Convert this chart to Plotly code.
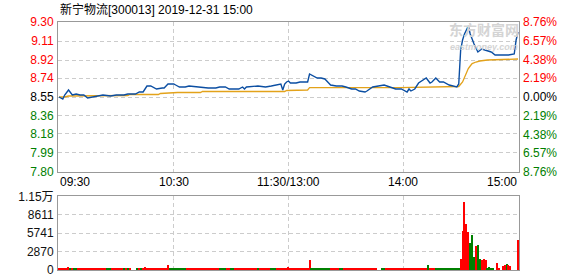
import plotly.graph_objects as go

# ---------------- data ----------------
prev_close = 8.55
price_ticks = [9.30, 9.11, 8.92, 8.74, 8.55, 8.36, 8.18, 7.99, 7.80]
pct_tick_vals = [8.76, 6.57, 4.38, 2.19, 0.0, -2.19, -4.38, -6.57, -8.76]
pct_ticks = ["8.76%", "6.57%", "4.38%", "2.19%", "0.00%", "2.19%", "4.38%", "6.57%", "8.76%"]
vol_tick_vals = [0, 2870, 5741, 8611, 11482]
vol_tick_text = ["0", "2870", "5741", "8611", "1.15万"]
time_labels = ["09:30", "10:30", "11:30/13:00", "14:00", "15:00"]
time_label_pos = [0, 60, 120, 180, 240]

price_min = [0, 2, 3, 5, 7, 9, 11, 13, 15, 18, 20, 23, 27, 30, 34, 36, 40, 42, 44, 46,
             48, 51, 54, 55, 57, 60, 61, 63, 66, 68, 73, 78, 82, 84, 87, 89, 94, 96, 97, 98,
             104, 108, 111, 115, 116, 117, 118, 119, 120, 121, 124, 126, 130, 131, 133, 135,
             137, 139, 141, 142, 145, 148, 150, 153, 155, 157, 160, 161, 164, 167, 170, 173,
             176, 179, 180, 182, 183, 184, 186, 188, 192, 194, 195, 197, 199, 201, 204, 207,
             208, 209, 210, 211, 212, 214, 215, 217, 219, 221, 223, 226, 228, 232, 235, 238,
             239, 240]
price_val = [8.55, 8.53, 8.57, 8.62, 8.57, 8.58, 8.57, 8.57, 8.54, 8.55, 8.56, 8.57, 8.56,
             8.57, 8.57, 8.58, 8.58, 8.60, 8.60, 8.66, 8.66, 8.63, 8.64, 8.64, 8.68, 8.68,
             8.67, 8.65, 8.65, 8.66, 8.65, 8.64, 8.64, 8.65, 8.65, 8.63, 8.63, 8.65, 8.63,
             8.65, 8.66, 8.65, 8.66, 8.68, 8.68, 8.62, 8.68, 8.70, 8.71, 8.69, 8.69, 8.70,
             8.70, 8.78, 8.76, 8.74, 8.74, 8.73, 8.69, 8.67, 8.66, 8.66, 8.65, 8.63, 8.63,
             8.61, 8.60, 8.61, 8.65, 8.66, 8.67, 8.65, 8.63, 8.63, 8.62, 8.60, 8.63, 8.61,
             8.63, 8.69, 8.74, 8.69, 8.70, 8.74, 8.70, 8.70, 8.67, 8.66, 8.65, 8.68, 9.02,
             9.12, 9.18, 9.26, 9.18, 9.08, 9.00, 9.03, 9.02, 9.00, 8.97, 8.97, 8.97, 8.98,
             9.12, 9.20]

avg_min = [0, 3, 5, 14, 16, 36, 37, 52, 53, 60, 62, 74, 75, 118, 119, 130, 131, 178, 192,
           209, 211, 212, 213, 214, 215, 216, 218, 220, 224, 240]
avg_val = [8.550, 8.550, 8.560, 8.560, 8.565, 8.565, 8.575, 8.575, 8.585, 8.590, 8.595,
           8.595, 8.605, 8.605, 8.615, 8.620, 8.643, 8.643, 8.650, 8.655, 8.700, 8.750,
           8.800, 8.834, 8.860, 8.884, 8.900, 8.910, 8.920, 8.930]

volume = [
    170, 160, 170, 180, 160, 400, 170, 190, 160, 150, 170, 160, 180, 170, 160, 150, 170, 160, 180, 160,
    170, 160, 150, 180, 160, 170, 160, 150, 170, 160, 180, 170, 160, 150, 160, 170, 180, 160, 0, 0,
    0, 160, 170, 180, 190, 350, 170, 160, 150, 170, 160, 180, 170, 160, 150, 170, 160, 650, 170, 160,
    170, 160, 150, 180, 160, 170, 160, 150, 170, 160, 180, 170, 160, 150, 160, 170, 180, 160, 170, 160,
    160, 170, 180, 160, 150, 170, 160, 180, 170, 160, 150, 170, 160, 180, 160, 170, 160, 150, 170, 160,
    180, 170, 160, 150, 170, 160, 180, 170, 160, 150, 170, 160, 180, 170, 160, 150, 170, 160, 180, 170,
    450, 160, 170, 180, 160, 150, 170, 160, 180, 170, 160, 1500, 170, 160, 150, 170, 160, 180, 170, 160,
    160, 170, 180, 160, 150, 170, 160, 180, 170, 160, 150, 170, 160, 180, 160, 170, 160, 150, 170, 160,
    170, 160, 150, 180, 160, 170, 160, 0, 0, 160, 170, 160, 180, 170, 160, 150, 170, 160, 180, 170,
    160, 170, 180, 160, 150, 170, 160, 180, 170, 160, 150, 170, 300, 730, 170, 160, 150, 170, 160, 180,
    170, 160, 150, 170, 160, 180, 170, 160, 150, 160,
    1650, 6000, 10550, 7090, 5850, 4190, 5380, 2020, 3670, 3830, 1650, 1500, 1650, 1500, 200, 470,
    300, 150, 0, 1030, 150, 0, 570, 730, 880, 730, 570, 0, 0, 0, 4600]
vol_dirs = ("rrrrrrgrggrrrrrrrrrr" "rrrrrgggrrrrrrgrgrrr" "rgrgrrrrrrrrrrrrrrgg"
            "gggggggrrrrrrrrrrrrr" "rrrrggggrrggrrrrrrrr" "rrrrgrrrrrrgggrrrrrr"
            "rrrrrrrrrrrrgggggggg" "ggrrrrrggrrrrrrrrrrr" "rrrrrrrrrggrrrrrrrrr"
            "rrrrrrrrrrrrrgrrrggg" "gggggggggg" "rrrrrgggrggrrrggggrrrrrrgrrrrrr")
vol_min = list(range(len(volume)))

# ---------------- styles ----------------
RED = "#ff0000"
GREEN = "#008000"
DARK = "#000000"
BORDER = "#999999"
GRID = "#cccccc"
FONT = "Liberation Sans, Arial, Noto Sans CJK SC, sans-serif"

def tcolor(i, n):
    mid = n // 2
    return RED if i < mid else (DARK if i == mid else GREEN)

left_text = [f'<span style="color:{tcolor(i, len(price_ticks))}">{v:.2f}</span>'
             for i, v in enumerate(price_ticks)]
right_text = [f'<span style="color:{tcolor(i, len(pct_ticks))}">{t}</span>'
              for i, t in enumerate(pct_ticks)]

bar_colors = [RED if c == "r" else GREEN for c in vol_dirs]

fig = go.Figure()
fig.add_trace(go.Scatter(x=avg_min, y=avg_val, mode="lines",
                         line=dict(color="#e3a21a", width=1.3), xaxis="x", yaxis="y",
                         hoverinfo="skip"))
fig.add_trace(go.Scatter(x=price_min, y=price_val, mode="lines",
                         line=dict(color="#0b4ea2", width=1.4), xaxis="x", yaxis="y",
                         hoverinfo="skip"))
fig.add_trace(go.Scatter(x=price_min, y=[(v / prev_close - 1) * 100 for v in price_val],
                         mode="lines", line=dict(color="rgba(0,0,0,0)", width=0),
                         xaxis="x", yaxis="y3", hoverinfo="skip"))
fig.add_trace(go.Bar(x=vol_min, y=volume, marker=dict(color=bar_colors, line=dict(width=0)),
                     width=0.55, xaxis="x2", yaxis="y2", hoverinfo="skip"))

lo = price_ticks[-1]
hi = price_ticks[0]
xr = [-0.5, 240.5]
P_BOT = 0.3952
V_TOP = 0.2964

common_x = dict(range=xr, tickvals=[60, 120, 180], showticklabels=False, ticks="",
                showgrid=True, gridcolor=GRID, griddash="4px,3px", gridwidth=1,
                showline=True, mirror=True, linecolor=BORDER, linewidth=1, zeroline=False,
                automargin=False)

fig.update_layout(
    width=578, height=276,
    margin=dict(l=58, r=59, t=22, b=6, autoexpand=False),
    paper_bgcolor="white", plot_bgcolor="white",
    showlegend=False,
    font=dict(family=FONT, size=12, color=DARK),
    bargap=0,
    xaxis=dict(domain=[0, 1], anchor="y", **common_x),
    xaxis2=dict(domain=[0, 1], anchor="y2", matches="x", **common_x),
    yaxis=dict(domain=[P_BOT, 1], anchor="x", range=[lo, hi],
               tickvals=price_ticks, ticktext=left_text, ticks="",
               showgrid=True, gridcolor=GRID, griddash="4px,3px", gridwidth=1,
               showline=True, mirror=True, linecolor=BORDER, linewidth=1, zeroline=False,
               tickfont=dict(size=12), ticklabelstandoff=1, ticklabeloverflow="allow",
               automargin=False),
    yaxis3=dict(overlaying="y", side="right", anchor="x", range=[-8.76, 8.76],
                tickvals=pct_tick_vals, ticktext=right_text, ticks="", showgrid=False,
                showline=False, zeroline=False, tickfont=dict(size=12), ticklabelstandoff=3,
                ticklabeloverflow="allow", automargin=False),
    yaxis2=dict(domain=[0, V_TOP], anchor="x2", range=[0, 11482],
                tickvals=vol_tick_vals, ticktext=vol_tick_text, ticks="",
                showgrid=True, gridcolor=GRID, griddash="4px,3px", gridwidth=1,
                showline=True, mirror=True, linecolor=BORDER, linewidth=1, zeroline=False,
                tickfont=dict(size=12, color="#111111"), ticklabelstandoff=1,
                ticklabeloverflow="allow", automargin=False),
)

annotations = []
anchors = ["left", "center", "center", "center", "right"]
for lab, pos, anc in zip(time_labels, time_label_pos, anchors):
    xpos = -0.5 if anc == "left" else (240.5 if anc == "right" else pos)
    annotations.append(dict(x=xpos, xref="x", y=P_BOT, yref="paper", yanchor="top",
                            xanchor=anc, text=lab, showarrow=False, yshift=-1,
                            font=dict(size=12, color=DARK)))
annotations.append(dict(x=0, xref="paper", y=1, yref="paper", yanchor="bottom", yshift=3,
                        xanchor="left", text="新宁物流[300013] 2019-12-31 15:00",
                        showarrow=False, font=dict(size=12, color=DARK)))
# watermark
annotations.append(dict(x=0.925, xref="paper", y=0.972, yref="paper", xanchor="center",
                        yanchor="middle", text="<b>东方财富网</b>", showarrow=False,
                        font=dict(size=14, color="#d4d4d4", family="Noto Sans CJK SC")))
annotations.append(dict(x=0.925, xref="paper", y=0.898, yref="paper", xanchor="center",
                        yanchor="middle", text="<b><i>eastmoney.com</i></b>", showarrow=False,
                        font=dict(size=9, color="#d4d4d4")))
fig.update_layout(annotations=annotations)

fig.write_html("out.html")
